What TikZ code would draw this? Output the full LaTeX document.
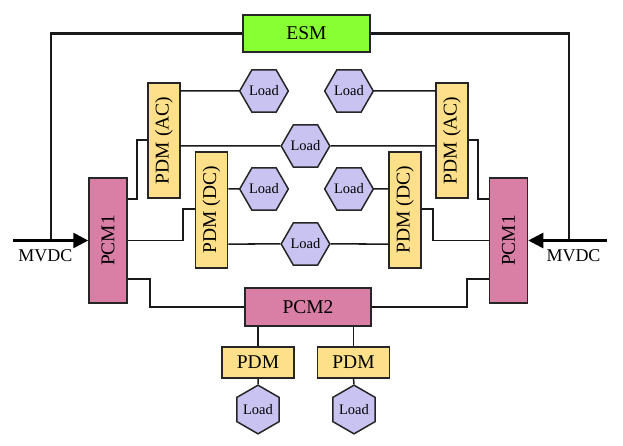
\documentclass[tikz,border=0pt]{standalone}
\usepackage{fontspec}
\setmainfont{Liberation Serif}
\usetikzlibrary{shapes.geometric,arrows.meta}
\definecolor{esmgreen}{HTML}{88FF33}
\definecolor{pcmpink}{HTML}{D97EA5}
\definecolor{pdmyellow}{HTML}{FFE08A}
\definecolor{loadlav}{HTML}{C8C3F0}
\tikzset{
  box/.style={draw=black!85,line width=1.5pt,inner sep=0pt,font=\fontsize{19.5}{21}\selectfont},
  esmbox/.style={box,fill=esmgreen,minimum width=127pt,minimum height=37pt},
  pcmv/.style={box,fill=pcmpink,minimum width=38pt,minimum height=125pt},
  pcmh/.style={box,fill=pcmpink,minimum width=126pt,minimum height=38pt},
  pdmv/.style={box,fill=pdmyellow,minimum width=32pt,minimum height=116pt},
  pdmh/.style={box,fill=pdmyellow,minimum width=72pt,minimum height=31pt},
  loadh/.style={draw=black!85,line width=1.5pt,fill=loadlav,regular polygon,regular polygon sides=6,minimum size=44pt,inner sep=0pt,font=\fontsize{14.5}{15}\selectfont},
  loadv/.style={loadh,shape border rotate=30,minimum size=43pt},
  thin/.style={line width=1.5pt,draw=black!90},
  thick/.style={line width=2.3pt,draw=black!90},
  lbl/.style={font=\fontsize{18}{19}\selectfont,inner sep=0pt}
}
\begin{document}
\begin{tikzpicture}[x=1pt,y=-1pt]
\useasboundingbox (0,0) rectangle (623,446);
% boxes
\node[esmbox] (esm) at (306.5,33.5) {ESM};
\node[pcmv] (pcmL) at (108,240.5) {\rotatebox{90}{PCM1}};
\node[pcmv] (pcmR) at (508.5,240.5) {\rotatebox{90}{PCM1}};
\node[pdmv,minimum height=115pt] (acL) at (164,140.5) {\rotatebox{90}{PDM (AC)}};
\node[pdmv,minimum height=115pt] (acR) at (452,140.5) {\rotatebox{90}{PDM (AC)}};
\node[pdmv] (dcL) at (211.5,210) {\rotatebox{90}{PDM (DC)}};
\node[pdmv] (dcR) at (405,210) {\rotatebox{90}{PDM (DC)}};
\node[pcmh] (pcm2) at (308,307) {PCM2};
\node[pdmh] (pb1) at (258,362.5) {PDM};
\node[pdmh] (pb2) at (353.5,362.5) {PDM};
% loads
\node[loadh] (l1) at (264,91) {Load};
\node[loadh] (l2) at (349,91) {Load};
\node[loadh] (lm1) at (305.5,146) {Load};
\node[loadh] (l3) at (264,189) {Load};
\node[loadh] (l4) at (349,189) {Load};
\node[loadh] (lm2) at (305.5,244) {Load};
\node[loadv] (lb1) at (258,409.5) {Load};
\node[loadv] (lb2) at (354,409.5) {Load};
% labels
\node[lbl] (mvL) at (45.5,256) {MVDC};
\node[lbl] (mvR) at (573.5,256) {MVDC};
% coordinates
\coordinate (inL) at (13,240.5);
\coordinate (inR) at (607,240.5);
\coordinate (jL) at (51,240.5);
\coordinate (jR) at (569,240.5);
% ESM feeders
\draw[thick] (esm.west) -- (51,33.5) -- (jL);
\draw[thick] (esm.east) -- (569,33.5) -- (jR);
% MVDC inputs
\draw[line width=2.6pt,-{Triangle[length=15pt,width=15pt]}] (inL) -- (pcmL.west);
\draw[line width=2.6pt,-{Triangle[length=15pt,width=15pt]}] (inR) -- (pcmR.east);
% PCM1 to PDMs
\draw[thick] (pcmL.east |- 0,199) -- (137,199) -- (137,140) -- (acL.west |- 0,140);
\draw[thin] (pcmL.east) -- (183,240.5) -- (183,209) -- (dcL.west |- 0,209);
\draw[thin] (acR.east |- 0,140) -- (478,140) -- (478,199) -- (pcmR.west |- 0,199);
\draw[thin] (dcR.east |- 0,209) -- (433,209) -- (433,240.5) -- (pcmR.west);
% PCM1 to PCM2
\draw[thick] (pcmL.east |- 0,279) -- (150,279) -- (150,307) -- (pcm2.west);
\draw[thick] (pcm2.east) -- (467,307) -- (467,279) -- (pcmR.west |- 0,279);
% PCM2 to PDMs
\draw[thin] (pb1.north |- pcm2.south) -- (pb1.north);
\draw[thin] (pb2.north |- pcm2.south) -- (pb2.north);
\draw[thin] (pb1.south) -- (lb1.north);
\draw[thin] (pb2.south) -- (lb2.north);
% PDM to loads
\draw[thin] (acL.east |- l1) -- (l1.west);
\draw[thin] (l2.east) -- (acR.west |- l2);
\draw[thin] (acL.east |- lm1) -- (lm1.west);
\draw[thin] (lm1.east) -- (acR.west |- lm1);
\draw[thin] (dcL.east |- l3) -- (l3.west);
\draw[thin] (l4.east) -- (dcR.west |- l4);
\draw[thin] (dcL.east |- lm2) -- (lm2.west);
\draw[thin] (lm2.east) -- (dcR.west |- lm2);
\end{tikzpicture}
\end{document}
